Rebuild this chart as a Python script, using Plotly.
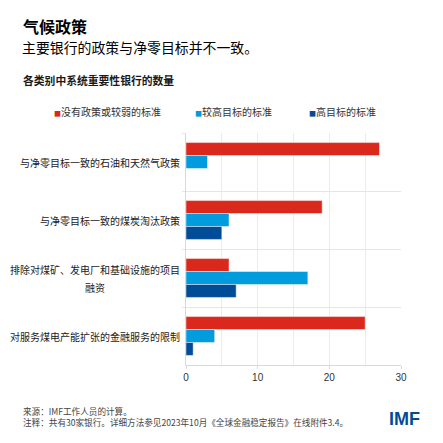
import plotly.graph_objects as go

# ---- data ----
categories = [
    "与净零目标一致的石油和天然气政策",
    "与净零目标一致的煤炭淘汰政策",
    "排除对煤矿、发电厂和基础设施的项目<br>融资",
    "对服务煤电产能扩张的金融服务的限制",
]
series_names = ["没有政策或较弱的标准", "较高目标的标准", "高目标的标准"]
weak_std = [27, 19, 6, 25]
higher_std = [3, 6, 17, 4]
high_std = [0, 5, 7, 1]
x_ticks = [0, 10, 20, 30]

colors = ["#DA291C", "#009CDE", "#004C97"]

# page has an 8px body margin; work in reference pixels and shift
OFF = 8
W, H = 443 - 2 * OFF, 443 - 2 * OFF
L, R, T, B = 186 - OFF, 42 - OFF, 133 - OFF, 78 - OFF
PW, PH = W - L - R, H - T - B
FONT = "Noto Sans CJK SC"


def px_x(px):
    return (px - OFF - L) / PW


def px_y(py):
    return 1 - (py - OFF - T) / PH


fig = go.Figure()
for name, vals, col in zip(series_names, [weak_std, higher_std, high_std], colors):
    fig.add_trace(go.Bar(
        y=categories, x=vals, name=name, orientation="h",
        marker=dict(color=col, line=dict(color="rgba(255,255,255,0.45)", width=1)),
        showlegend=False,
    ))

annotations = []
# category labels
for cat in categories:
    lines = cat.split("<br>")
    if len(lines) == 1:
        annotations.append(dict(
            x=0, xref="paper", y=cat, yref="y", xanchor="right", yanchor="middle",
            xshift=-4, text=cat, showarrow=False,
            font=dict(family=FONT, size=10, color="#1a1a1a")))
    else:
        txt = "<br>".join(f"<span style='font-size:10px'>{ln}</span>" for ln in lines)
        annotations.append(dict(
            x=0, xref="paper", y=cat, yref="y", xanchor="right", yanchor="middle",
            xshift=-4, text=txt, showarrow=False, align="center",
            font=dict(family=FONT, size=14, color="#1a1a1a")))

# legend (manual)
legend_x = [52, 193, 307]
for name, col, lx in zip(series_names, colors, legend_x):
    annotations.append(dict(
        x=px_x(lx), xref="paper", y=px_y(111), yref="paper",
        xanchor="left", yanchor="middle", showarrow=False,
        text=f"<span style='color:{col};font-size:7px'>■</span>{name}",
        font=dict(family=FONT, size=10, color="#333333")))

footer = ("来源：IMF工作人员的计算。",
          "注释：共有30家银行。详细方法参见2023年10月《全球金融稳定报告》在线附件3.4。")

# titles
annotations += [
    dict(x=px_x(21), xref="paper", y=px_y(26), yref="paper", xanchor="left", yanchor="middle",
         showarrow=False, text="<b>气候政策</b>", font=dict(family=FONT, size=16, color="#000000")),
    dict(x=px_x(20), xref="paper", y=px_y(47), yref="paper", xanchor="left", yanchor="middle",
         showarrow=False, text="主要银行的政策与净零目标并不一致。",
         font=dict(family=FONT, size=13.9, color="#000000")),
    dict(x=px_x(21), xref="paper", y=px_y(80), yref="paper", xanchor="left", yanchor="middle",
         showarrow=False, text="<b>各类别中系统重要性银行的数量</b>",
         font=dict(family=FONT, size=10.8, color="#1a1a1a")),
    dict(x=px_x(21), xref="paper", y=px_y(416), yref="paper", xanchor="left", yanchor="middle",
         showarrow=False, align="left",
         text="<br>".join(f"<span style='font-size:8.6px'>{ln}</span>" for ln in footer),
         font=dict(family=FONT, size=8.3, color="#444444")),
    dict(x=px_x(422), xref="paper", y=px_y(419), yref="paper", xanchor="right", yanchor="middle",
         showarrow=False, text="<b>IMF</b>",
         font=dict(family="Liberation Sans", size=18, color="#004C97")),
]

fig.update_layout(
    width=W, height=H, autosize=False,
    margin=dict(l=L, r=R, t=T, b=B, pad=0),
    paper_bgcolor="white", plot_bgcolor="white",
    barmode="group", bargap=0.33, bargroupgap=0,
    showlegend=False,
    annotations=annotations,
    xaxis=dict(
        range=[0, 30], tickvals=x_ticks, ticktext=[str(v) for v in x_ticks],
        showgrid=True, gridcolor="#ececec", gridwidth=1,
        minor=dict(dtick=5, tick0=0, showgrid=True, gridcolor="#ececec", gridwidth=1),
        zeroline=False, showline=True, linecolor="#d9d9d9", linewidth=1,
        ticks="outside", ticklen=3, tickcolor="#d9d9d9",
        tickfont=dict(family="Liberation Sans", size=10, color="#333333"),
        fixedrange=True,
    ),
    yaxis=dict(
        type="category", autorange="reversed", tickson="boundaries",
        showgrid=True, gridcolor="#e6e6e6", gridwidth=1,
        showline=True, linecolor="#d9d9d9", linewidth=1,
        ticks="outside", ticklen=3, tickcolor="#e6e6e6",
        showticklabels=False, zeroline=False, fixedrange=True,
    ),
)

fig.write_html("out.html")
